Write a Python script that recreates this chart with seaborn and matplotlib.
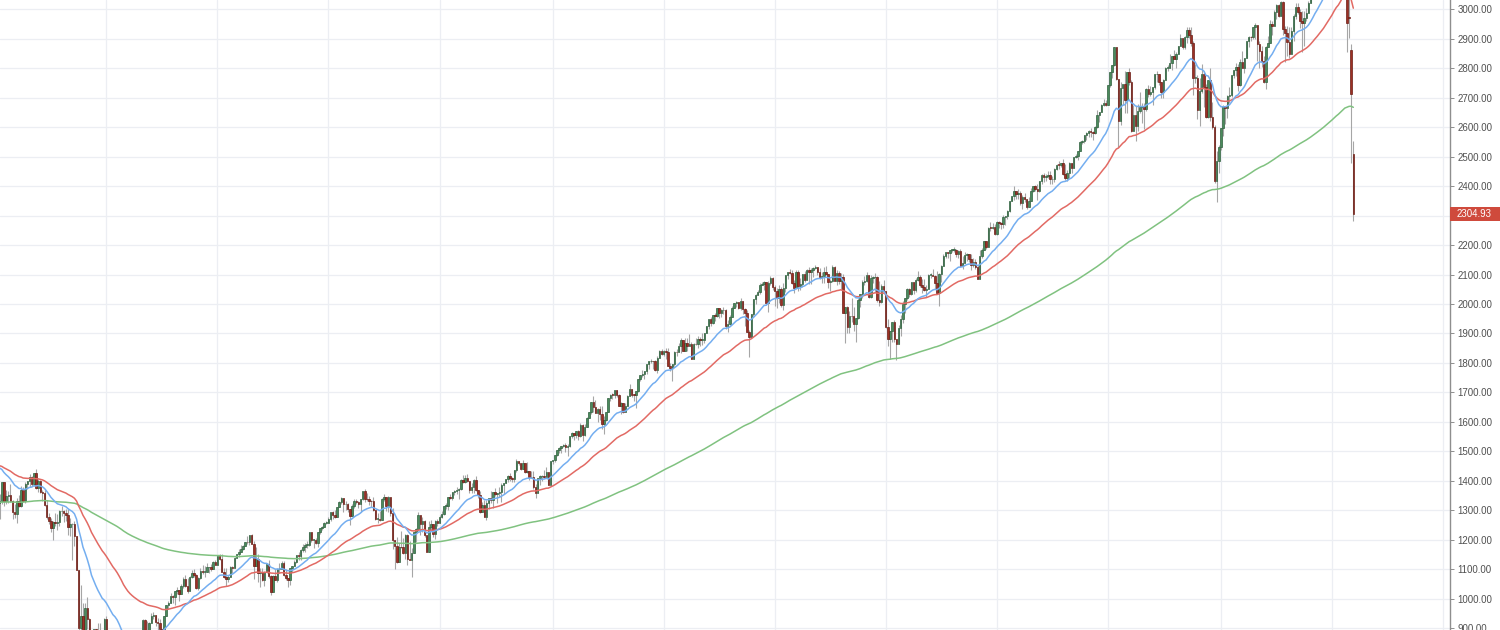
import matplotlib
matplotlib.use("Agg")
import matplotlib.pyplot as plt
import matplotlib.dates as mdates
import matplotlib.transforms as mtransforms
from matplotlib.patches import Rectangle
import seaborn as sns
import numpy as np
import pandas as pd

sns.set_theme(style="white")
plt.rcParams["font.family"] = ["Liberation Sans", "DejaVu Sans"]

# ---------------- data: weekly S&P 500 candles (open, high, low, close) ----------------
first_week = "2008-01-21"   # Monday of the first weekly bar

ohlc_2008 = [
    (1325,1355,1270,1331),(1331,1396,1322,1395),(1395,1396,1316,1331),(1331,1368,1320,1349),
    (1349,1367,1326,1353),(1353,1388,1329,1331),(1331,1336,1272,1294),(1294,1321,1275,1288),
    (1288,1341,1256,1330),(1330,1353,1312,1316),(1316,1381,1312,1370),(1370,1380,1328,1332),
    (1332,1395,1324,1390),(1390,1398,1371,1398),(1398,1422,1379,1413),(1413,1416,1383,1388),
    (1388,1426,1384,1425),(1425,1440,1373,1375),(1375,1406,1362,1400),(1400,1404,1358,1361),
    (1361,1370,1330,1360),(1360,1370,1316,1318),(1318,1335,1272,1278),(1278,1290,1252,1262),
    (1262,1274,1225,1239),(1239,1263,1200,1261),(1261,1291,1248,1257),(1257,1288,1234,1261),
    (1261,1300,1247,1297),(1297,1313,1282,1298),(1298,1300,1261,1292),(1292,1303,1262,1283),
    (1283,1304,1217,1242),(1242,1274,1212,1252),(1252,1256,1133,1255),(1255,1265,1180,1213),
    (1213,1214,1098,1099),(1099,1099,840,899),(899,1045,866,940),(940,986,858,876),
    (876,984,845,968),(968,1007,897,930),(930,936,818,873),(873,873,741,800),
    (800,897,800,896),(896,897,815,876),(876,918,857,879),(879,918,856,887),
    (887,887,857,872),
]
ohlc_2009 = [
    (872,934,857,931),(931,943,888,890),(890,891,804,850),(850,865,804,832),
    (832,877,821,826),(826,875,812,869),(869,876,818,827),(827,827,754,770),
    (770,780,731,735),(735,735,667,683),(683,759,672,757),(757,804,748,768),
    (768,832,766,816),(816,845,779,843),(843,857,814,857),(857,876,839,870),
    (870,871,826,866),(866,888,847,877),(877,930,875,929),(929,930,878,883),
    (883,924,879,887),(887,920,880,919),(919,951,919,940),(940,956,930,946),
    (946,946,906,921),(921,934,888,918),(918,931,895,896),(896,898,869,879),
    (879,943,875,940),(940,979,940,979),(979,993,965,987),(987,1018,984,1010),
    (1010,1013,987,1005),(1005,1027,978,1026),(1026,1039,1016,1029),(1029,1029,991,1016),
    (1016,1049,1016,1042),(1042,1074,1037,1068),(1068,1080,1041,1044),(1044,1069,1020,1025),
    (1025,1076,1025,1072),(1072,1097,1070,1087),(1087,1101,1075,1080),(1080,1085,1033,1036),
    (1036,1072,1029,1069),(1069,1105,1068,1093),(1093,1113,1083,1091),(1091,1112,1073,1091),
    (1091,1120,1091,1106),(1106,1109,1086,1106),(1106,1117,1095,1102),(1102,1127,1102,1126),
    (1126,1130,1114,1115),
]
ohlc_2010 = [
    (1115,1145,1115,1145),(1145,1151,1131,1136),(1136,1150,1090,1091),(1091,1104,1071,1074),
    (1074,1104,1044,1066),(1066,1080,1056,1075),(1075,1112,1075,1109),(1109,1112,1086,1105),
    (1105,1140,1105,1139),(1139,1151,1137,1150),(1150,1170,1141,1160),(1160,1181,1159,1167),
    (1167,1181,1165,1179),(1179,1194,1178,1194),(1194,1214,1186,1192),(1192,1217,1181,1217),
    (1217,1219,1185,1187),(1187,1197,1066,1111),(1111,1174,1111,1136),(1136,1150,1056,1087),
    (1087,1105,1040,1089),(1089,1105,1060,1065),(1065,1094,1042,1092),(1092,1121,1087,1117),
    (1117,1131,1070,1076),(1076,1081,1011,1023),(1023,1080,1023,1078),(1078,1100,1063,1065),
    (1065,1103,1057,1102),(1102,1120,1088,1102),(1102,1129,1102,1122),(1122,1129,1076,1079),
    (1079,1100,1063,1071),(1071,1071,1040,1065),(1065,1105,1047,1105),(1105,1110,1092,1110),
    (1110,1131,1110,1125),(1125,1149,1122,1149),(1149,1158,1131,1146),(1146,1167,1131,1166),
    (1166,1184,1160,1176),(1176,1190,1159,1183),(1183,1196,1171,1183),(1183,1227,1180,1225),
    (1225,1227,1194,1199),(1199,1204,1173,1199),(1199,1205,1185,1189),(1189,1225,1174,1225),
    (1225,1240,1220,1240),(1240,1247,1233,1244),(1244,1259,1242,1257),(1257,1262,1254,1258),
]
ohlc_2011 = [
    (1258,1278,1257,1272),(1272,1293,1262,1293),(1293,1296,1271,1283),(1283,1302,1275,1276),
    (1276,1311,1276,1310),(1310,1330,1310,1329),(1329,1344,1323,1343),(1343,1343,1294,1320),
    (1320,1332,1302,1321),(1321,1326,1295,1304),(1304,1304,1249,1279),(1279,1320,1279,1314),
    (1314,1338,1309,1333),(1333,1339,1320,1329),(1329,1330,1309,1320),(1320,1339,1294,1338),
    (1338,1365,1335,1364),(1364,1371,1329,1340),(1340,1359,1332,1338),(1338,1348,1318,1333),
    (1333,1334,1311,1331),(1331,1345,1297,1300),(1300,1300,1268,1271),(1271,1292,1258,1271),
    (1271,1298,1262,1268),(1268,1342,1268,1340),(1340,1356,1333,1344),(1344,1344,1296,1316),
    (1316,1347,1295,1345),(1345,1345,1282,1292),(1292,1307,1168,1199),(1199,1199,1101,1179),
    (1179,1208,1122,1124),(1124,1190,1124,1177),(1177,1230,1172,1174),(1174,1205,1150,1154),
    (1154,1220,1136,1216),(1216,1220,1114,1136),(1136,1195,1130,1131),(1131,1171,1074,1155),
    (1155,1225,1155,1225),(1225,1240,1191,1238),(1238,1293,1231,1285),(1285,1285,1215,1253),
    (1253,1277,1226,1264),(1264,1266,1209,1216),(1216,1216,1158,1159),(1159,1265,1158,1244),
    (1244,1267,1231,1255),(1255,1255,1209,1219),(1219,1266,1202,1265),(1265,1270,1248,1258),
]
ohlc_2012 = [
    (1258,1285,1258,1278),(1278,1297,1275,1289),(1289,1316,1285,1315),(1315,1326,1306,1316),
    (1316,1345,1300,1345),(1345,1355,1337,1343),(1343,1363,1336,1361),(1361,1368,1352,1366),
    (1366,1378,1354,1370),(1370,1374,1340,1371),(1371,1407,1368,1404),(1404,1419,1391,1397),
    (1397,1420,1391,1408),(1408,1422,1395,1398),(1398,1398,1358,1370),(1370,1393,1357,1378),
    (1378,1406,1358,1403),(1403,1415,1367,1369),(1369,1369,1343,1353),(1353,1365,1291,1295),
    (1295,1328,1295,1318),(1318,1334,1277,1278),(1278,1335,1266,1326),(1326,1343,1306,1343),
    (1343,1364,1324,1335),(1335,1363,1309,1362),(1362,1374,1348,1355),(1355,1359,1326,1357),
    (1357,1380,1345,1363),(1363,1391,1329,1386),(1386,1394,1354,1391),(1391,1407,1391,1406),
    (1406,1419,1397,1418),(1418,1426,1400,1411),(1411,1414,1397,1407),(1407,1438,1396,1438),
    (1438,1475,1429,1466),(1466,1467,1455,1460),(1460,1460,1437,1441),(1441,1471,1440,1461),
    (1461,1461,1425,1429),(1429,1464,1428,1433),(1433,1434,1403,1412),(1412,1434,1410,1414),
    (1414,1433,1373,1380),(1380,1388,1343,1360),(1360,1409,1359,1409),(1409,1420,1385,1416),
    (1416,1421,1399,1418),(1418,1438,1411,1413),(1413,1448,1413,1430),(1430,1431,1385,1385),
]
ohlc_2013 = [
    (1385,1467,1385,1466),(1466,1472,1456,1472),(1472,1486,1465,1486),(1486,1503,1485,1503),
    (1503,1514,1496,1513),(1513,1518,1495,1518),(1518,1524,1514,1520),(1520,1530,1497,1516),
    (1516,1525,1485,1518),(1518,1552,1514,1551),(1551,1564,1547,1561),(1561,1563,1538,1556),
    (1556,1570,1545,1569),(1569,1573,1540,1553),(1553,1597,1549,1588),(1588,1593,1536,1555),
    (1555,1592,1553,1582),(1582,1618,1581,1614),(1614,1635,1613,1633),(1633,1667,1626,1667),
    (1667,1687,1635,1650),(1650,1674,1630,1631),(1631,1646,1598,1643),(1643,1655,1608,1626),
    (1626,1654,1577,1593),(1593,1620,1560,1606),(1606,1632,1604,1632),(1632,1680,1632,1680),
    (1680,1693,1670,1692),(1692,1698,1676,1691),(1691,1709,1680,1709),(1709,1709,1684,1691),
    (1691,1696,1654,1655),(1655,1669,1627,1664),(1664,1664,1630,1633),(1633,1665,1633,1655),
    (1655,1691,1655,1688),(1688,1730,1688,1710),(1710,1711,1685,1692),(1692,1695,1670,1691),
    (1691,1705,1646,1704),(1704,1745,1700,1744),(1744,1760,1740,1760),(1760,1775,1752,1762),
    (1762,1774,1746,1771),(1771,1798,1764,1798),(1798,1805,1780,1805),(1805,1813,1800,1806),
    (1806,1806,1779,1805),(1805,1811,1772,1775),(1775,1823,1767,1818),(1818,1844,1818,1841),
]
ohlc_2014 = [
    (1841,1849,1827,1832),(1832,1843,1823,1842),(1842,1850,1815,1838),(1838,1851,1790,1790),
    (1790,1799,1771,1783),(1783,1798,1738,1797),(1797,1841,1791,1838),(1838,1847,1824,1836),
    (1836,1867,1836,1859),(1859,1883,1835,1878),(1878,1879,1839,1841),(1841,1884,1840,1866),
    (1866,1883,1842,1857),(1857,1897,1857,1865),(1865,1872,1814,1815),(1815,1869,1815,1864),
    (1864,1884,1860,1863),(1863,1891,1851,1881),(1881,1889,1859,1878),(1878,1902,1862,1878),
    (1878,1901,1868,1900),(1900,1924,1900,1924),(1924,1950,1915,1950),(1950,1955,1925,1937),
    (1937,1964,1933,1963),(1963,1968,1944,1961),(1961,1985,1955,1985),(1985,1985,1952,1968),
    (1968,1983,1955,1978),(1978,1991,1965,1978),(1978,1984,1916,1925),(1925,1946,1905,1931),
    (1931,1964,1928,1955),(1955,1994,1955,1988),(1988,2005,1988,2003),(2003,2011,1991,2008),
    (2008,2008,1983,1985),(1985,2020,1979,2010),(2010,2010,1965,1982),(1982,1986,1926,1968),
    (1968,1978,1906,1906),(1906,1912,1821,1887),(1887,1966,1886,1965),(1965,2018,1961,2018),
    (2018,2034,2001,2032),(2032,2046,2030,2040),(2040,2071,2034,2064),(2064,2076,2064,2068),
    (2068,2079,2049,2075),(2075,2075,2002,2003),(2003,2077,1973,2071),(2071,2094,2066,2089),
]
ohlc_2015 = [
    (2089,2093,2046,2058),(2058,2064,1992,2045),(2045,2054,1988,2019),(2019,2065,2004,2051),
    (2051,2057,1989,1995),(1995,2072,1980,2055),(2055,2097,2041,2097),(2097,2110,2085,2110),
    (2110,2119,2103,2104),(2104,2117,2067,2071),(2071,2082,2039,2053),(2053,2114,2050,2108),
    (2108,2114,2045,2061),(2061,2089,2048,2067),(2067,2102,2057,2102),(2102,2111,2073,2081),
    (2081,2120,2081,2117),(2117,2126,2067,2108),(2108,2121,2067,2116),(2116,2124,2093,2123),
    (2123,2134,2120,2126),(2126,2127,2099,2107),(2107,2121,2085,2092),(2092,2108,2072,2094),
    (2094,2126,2072,2110),(2110,2129,2100,2102),(2102,2102,2056,2076),(2076,2085,2044,2077),
    (2077,2132,2076,2127),(2127,2128,2077,2079),(2079,2114,2063,2104),(2104,2112,2067,2078),
    (2078,2105,2052,2092),(2092,2103,1970,1971),(1971,1989,1867,1989),(1989,1993,1903,1921),
    (1921,1976,1903,1961),(1961,2021,1938,1958),(1958,1990,1908,1931),(1931,1952,1872,1951),
    (1951,2020,1950,2014),(2014,2034,1990,2033),(2033,2080,2019,2075),(2075,2094,2064,2079),
    (2079,2107,2075,2099),(2099,2099,2022,2023),(2023,2097,2020,2089),(2089,2094,2070,2090),
    (2090,2104,2042,2092),(2092,2094,2008,2012),(2012,2077,1993,2006),(2006,2067,2005,2061),
    (2061,2082,2043,2044),
]
ohlc_2016 = [
    (2044,2044,1918,1922),(1922,1950,1857,1880),(1880,1908,1812,1907),(1907,1940,1872,1940),
    (1940,1947,1872,1880),(1880,1881,1810,1865),(1865,1930,1865,1918),(1918,1963,1891,1948),
    (1948,2009,1937,2000),(2000,2022,1969,2022),(2022,2056,2013,2050),(2050,2056,2023,2035),
    (2035,2075,2029,2073),(2073,2075,2033,2048),(2048,2088,2040,2081),(2081,2111,2078,2092),
    (2092,2099,2058,2065),(2065,2084,2039,2057),(2057,2084,2045,2047),(2047,2066,2025,2052),
    (2052,2101,2050,2099),(2099,2105,2087,2099),(2099,2120,2094,2096),(2096,2097,2050,2071),
    (2071,2113,2033,2037),(2037,2104,1992,2103),(2103,2132,2074,2130),(2130,2169,2130,2162),
    (2162,2176,2155,2175),(2175,2177,2155,2174),(2174,2183,2147,2183),(2183,2188,2177,2184),
    (2184,2193,2175,2184),(2184,2187,2160,2169),(2169,2184,2157,2180),(2180,2187,2128,2128),
    (2128,2162,2120,2139),(2139,2175,2138,2165),(2165,2173,2145,2168),(2168,2169,2142,2153),
    (2153,2169,2115,2133),(2133,2155,2126,2141),(2141,2152,2120,2126),(2126,2133,2084,2085),
    (2085,2182,2085,2164),(2164,2189,2156,2182),(2182,2214,2182,2213),(2213,2214,2187,2192),
    (2192,2260,2192,2259),(2259,2278,2248,2258),(2258,2274,2253,2263),(2263,2273,2234,2239),
]
ohlc_2017 = [
    (2239,2282,2233,2277),(2277,2280,2258,2275),(2275,2279,2254,2271),(2271,2301,2258,2295),
    (2295,2300,2267,2297),(2297,2319,2288,2316),(2316,2351,2312,2351),(2351,2367,2349,2367),
    (2367,2401,2353,2384),(2384,2385,2358,2373),(2373,2390,2358,2378),(2378,2382,2336,2344),
    (2344,2371,2322,2363),(2363,2378,2345,2355),(2355,2356,2322,2329),(2329,2362,2328,2349),
    (2349,2392,2349,2384),(2384,2399,2379,2399),(2399,2404,2384,2391),(2391,2406,2353,2382),
    (2382,2418,2380,2416),(2416,2440,2407,2439),(2439,2446,2415,2432),(2432,2441,2419,2433),
    (2433,2453,2429,2438),(2438,2450,2406,2423),(2423,2433,2407,2425),(2425,2463,2415,2459),
    (2459,2474,2455,2473),(2473,2484,2459,2472),(2472,2478,2465,2477),(2477,2491,2437,2441),
    (2441,2474,2420,2426),(2426,2454,2417,2443),(2443,2481,2428,2477),(2477,2477,2446,2461),
    (2461,2500,2461,2500),(2500,2508,2496,2502),(2502,2519,2489,2519),(2519,2552,2519,2549),
    (2549,2557,2542,2553),(2553,2575,2547,2575),(2575,2582,2555,2581),(2581,2589,2566,2587),
    (2587,2597,2566,2582),(2582,2586,2557,2579),(2579,2605,2576,2602),(2602,2657,2598,2642),
    (2642,2652,2617,2652),(2652,2680,2650,2676),(2676,2695,2673,2683),(2683,2692,2673,2674),
]
ohlc_2018 = [
    (2674,2743,2674,2743),(2743,2787,2737,2786),(2786,2810,2768,2810),(2810,2873,2808,2873),
    (2873,2873,2759,2762),(2762,2763,2533,2620),(2620,2754,2608,2732),(2732,2747,2675,2747),
    (2747,2789,2648,2691),(2691,2787,2647,2786),(2786,2802,2742,2752),(2752,2761,2585,2588),
    (2588,2674,2588,2641),(2641,2672,2553,2604),(2604,2680,2586,2656),(2656,2718,2649,2670),
    (2670,2683,2613,2670),(2670,2683,2594,2663),(2663,2732,2655,2728),(2728,2742,2701,2713),
    (2713,2739,2707,2721),(2721,2736,2676,2735),(2735,2779,2731,2779),(2779,2790,2754,2780),
    (2780,2780,2743,2755),(2755,2755,2699,2718),(2718,2764,2699,2760),(2760,2805,2760,2801),
    (2801,2810,2792,2802),(2802,2848,2801,2819),(2819,2843,2795,2840),(2840,2863,2830,2833),
    (2833,2855,2802,2850),(2850,2876,2848,2875),(2875,2916,2875,2902),(2902,2902,2864,2872),
    (2872,2908,2864,2905),(2905,2941,2885,2929),(2929,2939,2903,2914),(2914,2940,2874,2886),
    (2886,2894,2710,2767),(2767,2816,2750,2768),(2768,2778,2628,2659),(2659,2767,2603,2723),
    (2723,2815,2715,2781),(2781,2791,2670,2736),(2736,2746,2631,2633),(2633,2760,2631,2760),
    (2760,2800,2621,2633),(2633,2685,2593,2600),(2600,2608,2409,2417),(2417,2520,2347,2486),
]
ohlc_2019 = [
    (2486,2539,2444,2532),(2532,2598,2524,2596),(2596,2675,2570,2671),(2671,2672,2612,2665),
    (2665,2709,2631,2707),(2707,2738,2682,2708),(2708,2776,2703,2776),(2776,2794,2767,2793),
    (2793,2817,2775,2804),(2804,2816,2722,2743),(2743,2830,2741,2822),(2822,2860,2800,2801),
    (2801,2836,2785,2834),(2834,2893,2834,2893),(2893,2910,2873,2907),(2907,2909,2891,2905),
    (2905,2940,2898,2940),(2940,2954,2900,2946),(2946,2946,2825,2881),(2881,2892,2801,2860),
    (2860,2875,2805,2826),(2826,2841,2750,2752),(2752,2876,2728,2873),(2873,2911,2872,2887),
    (2887,2964,2887,2950),(2950,2959,2912,2942),(2942,2996,2942,2990),(2990,3018,2966,3014),
    (3014,3017,2975,2977),(2977,3028,2977,3026),(3026,3027,2914,2932),(2932,2944,2822,2919),
    (2919,2943,2840,2889),(2889,2939,2835,2847),(2847,2940,2847,2926),(2926,2985,2891,2979),
    (2979,3021,2968,3007),(3007,3022,2985,2992),(2992,3000,2938,2962),(2962,2993,2856,2952),
    (2952,2993,2874,2970),(2970,3003,2959,2986),(2986,3027,2986,3023),(3023,3067,3021,3067),
    (3067,3098,3059,3093),(3093,3120,3078,3120),(3120,3127,3090,3110),(3110,3154,3110,3141),
    (3141,3150,3070,3146),(3146,3183,3124,3169),(3169,3226,3169,3221),(3221,3247,3221,3240),
]
ohlc_2020 = [
    (3240,3258,3213,3235),(3235,3268,3214,3265),(3265,3330,3264,3330),(3330,3337,3281,3295),
    (3295,3295,3214,3226),(3226,3348,3223,3328),(3328,3385,3328,3380),(3380,3393,3328,3338),
    (3258,3260,2855,2954),(2974,3137,2902,2972),(2863,2882,2478,2711),(2508,2553,2280,2304.93),
]

ema_fast_start = 1455
ema_mid_start = 1456
ema_slow_start = 1327

price_ticks = list(range(900, 3001, 100))
last_price_label = "2304.93"

# ---------------- build frame ----------------
ohlc = np.array(ohlc_2008 + ohlc_2009 + ohlc_2010 + ohlc_2011 + ohlc_2012 + ohlc_2013 +
                ohlc_2014 + ohlc_2015 + ohlc_2016 + ohlc_2017 + ohlc_2018 + ohlc_2019 +
                ohlc_2020, dtype=float)
opens, highs, lows, closes = ohlc.T
dates = pd.date_range(first_week, periods=len(ohlc), freq="7D")
xs = mdates.date2num(dates.to_pydatetime())


def ema(values, span, start):
    s = pd.Series(np.concatenate([[start], values]))
    return s.ewm(span=span, adjust=False).mean().to_numpy()[1:]


df = pd.DataFrame({"x": xs, "ema20": ema(closes, 20, ema_fast_start),
                   "ema50": ema(closes, 50, ema_mid_start),
                   "ema200": ema(closes, 200, ema_slow_start)})

# ---------------- figure ----------------
W, H = 1500, 630
fig = plt.figure(figsize=(W / 100, H / 100), dpi=100)
fig.patch.set_facecolor("white")
ax = fig.add_axes([0, 0, 1450 / W, 1])
ax.set_facecolor("white")

px_per_day = 0.30501
x_left = mdates.date2num(pd.Timestamp("2008-01-22").to_pydatetime())
ax.set_xlim(x_left, x_left + 1450 / px_per_day)
ax.set_ylim(893.8, 3031.6)

# grid
year_starts = [xs[i] for i in range(1, len(dates)) if dates[i].year != dates[i - 1].year]
year_starts.append(mdates.date2num(pd.Timestamp("2021-01-04").to_pydatetime()))
ax.set_xticks(year_starts)
ax.set_yticks(price_ticks)
ax.grid(True, color="#eceef3", linewidth=0.9)
ax.set_axisbelow(True)

# candles
up = closes >= opens
body_low = np.minimum(opens, closes)
body_h = np.maximum(np.abs(closes - opens), 2.0)
ax.vlines(xs, lows, highs, colors="#a6a6a6", linewidth=0.8, zorder=2)
ax.bar(xs[up], body_h[up], bottom=body_low[up], width=4.8, color="#4a8a5c",
       edgecolor="#2f5f3d", linewidth=0.5, zorder=3)
ax.bar(xs[~up], body_h[~up], bottom=body_low[~up], width=4.8, color="#9c3024",
       edgecolor="#6a1c14", linewidth=0.5, zorder=3)

# moving averages
sns.lineplot(data=df, x="x", y="ema200", ax=ax, color="#80c280", linewidth=1.1,
             estimator=None, zorder=4)
sns.lineplot(data=df, x="x", y="ema50", ax=ax, color="#e26a64", linewidth=1.1,
             estimator=None, zorder=5)
sns.lineplot(data=df, x="x", y="ema20", ax=ax, color="#74aef0", linewidth=1.1,
             estimator=None, zorder=6)

ax.set_xlabel("")
ax.set_ylabel("")

# axes styling
for s in ["left", "top", "bottom"]:
    ax.spines[s].set_visible(False)
ax.spines["right"].set_color("#8e8e8e")
ax.spines["right"].set_linewidth(1.0)
ax.yaxis.tick_right()
ax.tick_params(axis="x", length=0, labelbottom=False)
ax.tick_params(axis="y", which="major", direction="out", length=3, width=0.7,
               color="#8e8e8e", labelsize=7, labelcolor="#505050", pad=2.5)
ax.set_yticklabels(["" if v == 2300 else f"{v:.2f}" for v in price_ticks])

# last price marker
trans = mtransforms.blended_transform_factory(ax.transAxes, ax.transData)
last = closes[-1]
half = 7.2 / 0.2947
ax.add_patch(Rectangle((1.0, last - half), 52 / 1450, 2 * half, transform=trans,
                       clip_on=False, facecolor="#cf4a3c", edgecolor="none", zorder=10))
ax.text(1.0 + 7 / 1450, last, last_price_label, transform=trans, va="center", ha="left",
        color="white", fontsize=7, zorder=11, clip_on=False)

fig.savefig("out.png", dpi=100, facecolor="white")
